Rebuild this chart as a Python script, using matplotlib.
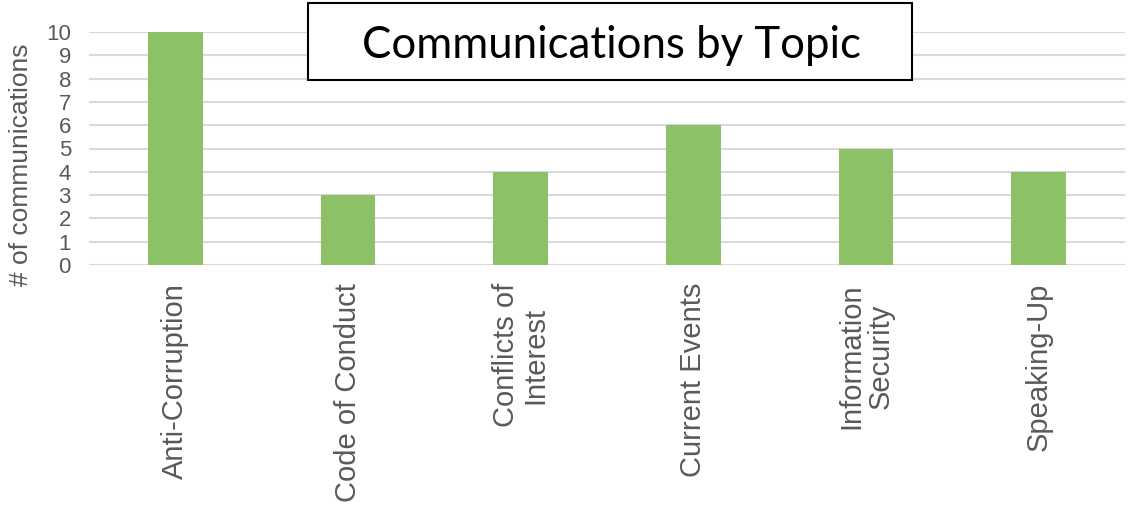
import matplotlib
matplotlib.use("Agg")
import matplotlib.pyplot as plt
from matplotlib.patches import Rectangle

categories = ["Anti-Corruption", "Code of Conduct", "Conflicts of\nInterest",
              "Current Events", "Information\nSecurity", "Speaking-Up"]
values = [10, 3, 4, 6, 5, 4]
yticks = list(range(0, 11))

plt.rcParams['font.family'] = ['Liberation Sans', 'DejaVu Sans']

fig = plt.figure(figsize=(11.28, 5.05), dpi=100)
ax = fig.add_axes([89/1128, 1-265/505, (1125-89)/1128, (265-32)/505])

x = list(range(len(categories)))
ax.bar(x, values, width=0.315, color='#8CC168', zorder=3)
ax.set_xlim(-0.5, len(categories)-0.5)
ax.set_ylim(0, 10)
ax.set_yticks(yticks)
ax.set_yticklabels([str(t) for t in yticks], fontsize=16, color='#595959')
ax.set_xticks(x)
ax.set_xticklabels(categories, rotation=90, fontsize=21, color='#595959',
                   va='top', ha='center', multialignment='center', linespacing=1.05)
ax.tick_params(axis='y', length=0, pad=13)
ax.tick_params(axis='x', length=0, pad=13)
ax.grid(axis='y', color='#D9D9D9', lw=1.5, zorder=0)
for s in ax.spines.values():
    s.set_visible(False)
ax.set_ylabel('# of communications', fontsize=19, color='#595959')
ax.yaxis.set_label_coords(-0.054, 0.43)

rect = Rectangle((308/1128, 1-80/505), 604/1128, 77/505, transform=fig.transFigure,
                 facecolor='white', edgecolor='black', lw=1.5, zorder=10)
fig.add_artist(rect)
fig.text(611/1128, 1-45/505, 'Communications by Topic', fontsize=31.5,
         family=['Lato', 'DejaVu Sans'], ha='center', va='center', zorder=11)

fig.savefig('out.png', dpi=100)
